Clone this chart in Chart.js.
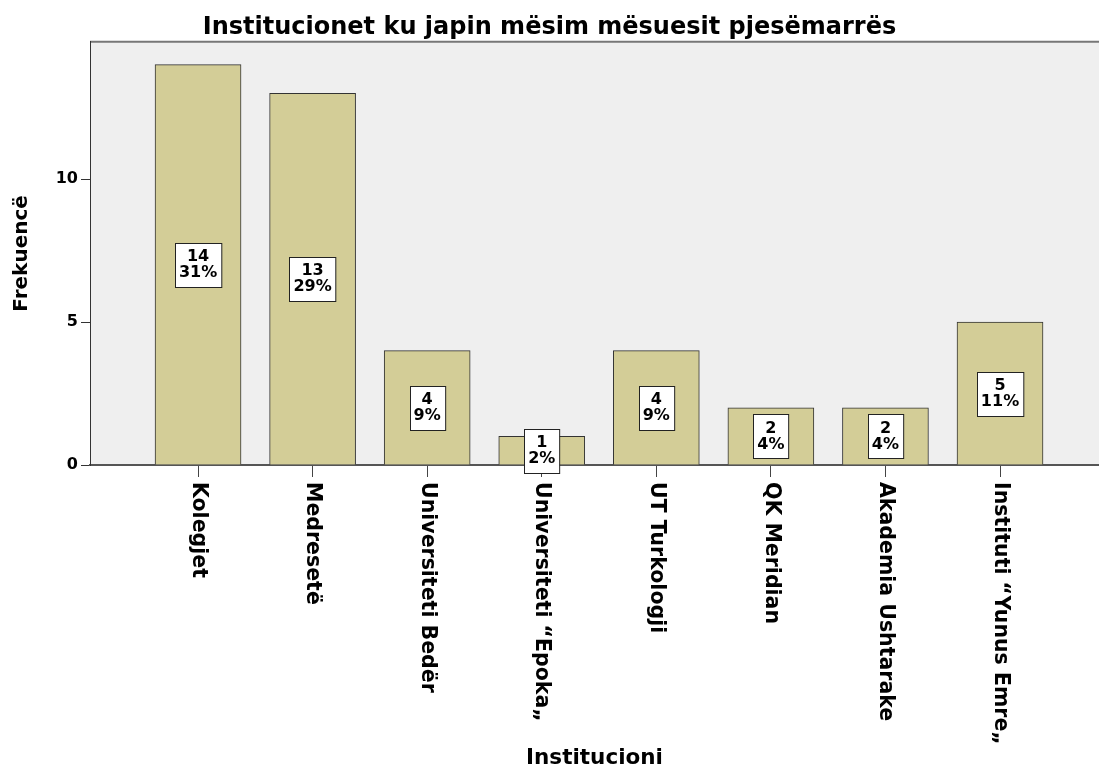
<!DOCTYPE html>
<html>
<head>
<meta charset="utf-8">
<script src="https://cdn.jsdelivr.net/npm/chart.js@4"></script>
<style>
  body { margin: 0; background: #fff; }
  canvas { display: block; }
</style>
</head>
<body>
<canvas id="chart" width="1099" height="771"></canvas>
<script>
// data
const categories = ['Kolegjet', 'Medresetë', 'Universiteti Bedër', 'Universiteti “Epoka„', 'UT Turkologji', 'QK Meridian', 'Akademia Ushtarake', 'Instituti “Yunus Emre„'];
const counts = [14, 13, 4, 1, 4, 2, 2, 5];
const yTicks = [0, 5, 10];

const total = counts.reduce((a, b) => a + b, 0);
const fontFamily = "'DejaVu Sans', Verdana, sans-serif";

// plot background and top border line
const plotBackground = {
    id: 'plotBackground',
    beforeDraw(chart) {
        const {ctx, chartArea} = chart;
        ctx.save();
        ctx.fillStyle = '#efefef';
        ctx.fillRect(chartArea.left, chartArea.top, chartArea.right - chartArea.left, chartArea.bottom - chartArea.top);
        ctx.strokeStyle = '#777';
        ctx.lineWidth = 2;
        ctx.beginPath();
        ctx.moveTo(chartArea.left, chartArea.top);
        ctx.lineTo(chartArea.right, chartArea.top);
        ctx.stroke();
        ctx.restore();
    }
};

// count + percent boxes in the middle of each bar
const barLabels = {
    id: 'barLabels',
    afterDatasetsDraw(chart) {
        const {ctx} = chart;
        const yScale = chart.scales.y;
        const meta = chart.getDatasetMeta(0);
        ctx.save();
        ctx.font = 'bold 16px ' + fontFamily;
        ctx.textAlign = 'center';
        ctx.textBaseline = 'middle';
        meta.data.forEach((bar, i) => {
            const v = counts[i];
            const pct = Math.round(v / total * 100) + '%';
            const yMid = yScale.getPixelForValue(v / 2);
            const w = Math.max(ctx.measureText(String(v)).width, ctx.measureText(pct).width) + 8;
            const h = 44;
            const left = Math.round(bar.x - w / 2) + 0.5;
            const top = Math.round(yMid - h / 2) + 0.5;
            ctx.fillStyle = '#fff';
            ctx.fillRect(left, top, w, h);
            ctx.strokeStyle = '#222';
            ctx.lineWidth = 1;
            ctx.strokeRect(left, top, w, h);
            ctx.fillStyle = '#000';
            ctx.fillText(String(v), bar.x, yMid - 8);
            ctx.fillText(pct, bar.x, yMid + 8);
        });
        ctx.restore();
    }
};

// x labels read top to bottom (rotated clockwise)
const xLabels = {
    id: 'xLabels',
    afterDraw(chart) {
        const {ctx} = chart;
        const xScale = chart.scales.x;
        const y0 = chart.chartArea.bottom + 17;
        ctx.save();
        ctx.font = 'bold 20.5px ' + fontFamily;
        ctx.fillStyle = '#000';
        ctx.textAlign = 'left';
        ctx.textBaseline = 'middle';
        categories.forEach((c, i) => {
            const x = xScale.getPixelForValue(i);
            ctx.save();
            ctx.translate(x, y0);
            ctx.rotate(Math.PI / 2);
            ctx.fillText(c, 0, 0);
            ctx.restore();
        });
        ctx.restore();
    }
};

new Chart(document.getElementById('chart'), {
    type: 'bar',
    data: {
        datasets: [{
            data: counts.map((v, i) => ({x: i, y: v})),
            backgroundColor: '#d3cd97',
            borderColor: '#333',
            borderWidth: 1,
            barThickness: 86
        }]
    },
    options: {
        responsive: false,
        devicePixelRatio: 1,
        animation: false,
        layout: { padding: 0 },
        plugins: {
            legend: { display: false },
            tooltip: { enabled: false },
            title: {
                display: true,
                text: 'Institucionet ku japin mësim mësuesit pjesëmarrës',
                color: '#000',
                font: { family: fontFamily, size: 24, weight: 'bold' },
                padding: { top: 13, bottom: 0 }
            }
        },
        scales: {
            x: {
                type: 'linear',
                offset: false,
                min: -0.943,
                max: 7.864,
                afterBuildTicks: scale => { scale.ticks = categories.map((c, i) => ({value: i})); },
                afterFit: scale => { scale.height = 306; },
                ticks: { display: false },
                grid: { offset: false, drawOnChartArea: false, drawTicks: true, tickLength: 12, color: '#444', lineWidth: 1 },
                border: { display: true, color: '#555', width: 2 },
                title: {
                    display: true,
                    text: 'Institucioni',
                    color: '#000',
                    font: { family: fontFamily, size: 21.5, weight: 'bold' },
                    padding: { top: 0, bottom: 0 }
                }
            },
            y: {
                min: 0,
                max: 14.8,
                afterBuildTicks: scale => { scale.ticks = yTicks.map(v => ({value: v})); },
                afterFit: scale => { scale.width = 90; },
                ticks: {
                    color: '#000',
                    padding: 3,
                    font: { family: fontFamily, size: 16, weight: 'bold' }
                },
                grid: { drawOnChartArea: false, drawTicks: true, tickLength: 9, color: '#333' },
                border: { display: true, color: '#333', width: 1 },
                title: {
                    display: true,
                    text: 'Frekuencë',
                    color: '#000',
                    font: { family: fontFamily, size: 20, weight: 'bold' },
                    padding: { top: 10, bottom: 0 }
                }
            }
        }
    },
    plugins: [plotBackground, barLabels, xLabels]
});
</script>
</body>
</html>
